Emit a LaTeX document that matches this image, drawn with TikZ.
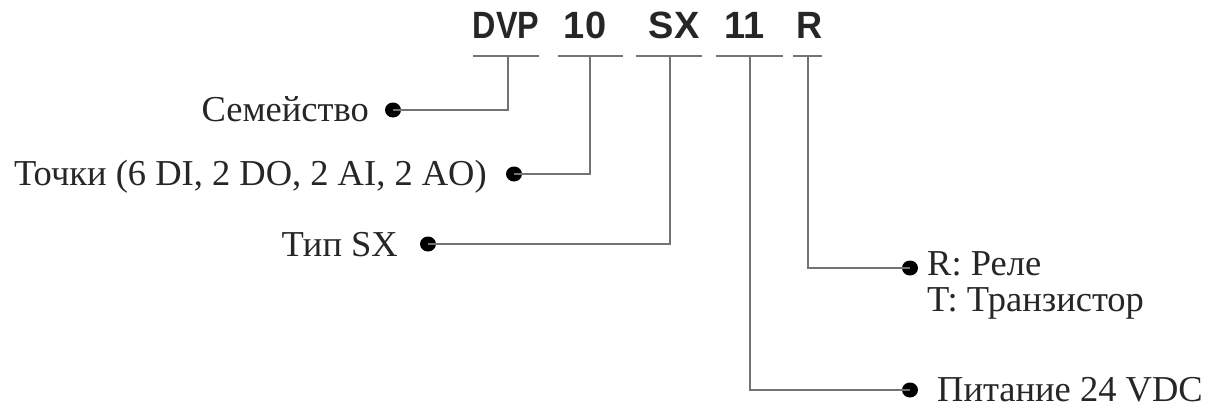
\documentclass[tikz,border=0pt]{standalone}
\usepackage{fontspec}
\usetikzlibrary{shapes.geometric}
\setmainfont{Liberation Serif}
\newfontfamily\headfont{Liberation Sans}
\newcommand{\narrowcode}[2]{\scalebox{#1}[1]{#2}}
\begin{document}
\begin{tikzpicture}[x=1pt,y=-1pt,
  code/.style={font=\headfont\bfseries\fontsize{38}{38}\selectfont, anchor=base, text=black!85, inner sep=0},
  lbl/.style={font=\fontsize{36.5}{42}\selectfont, inner sep=0, text=black!85},
  dotn/.style={ellipse, fill=black, inner sep=0, minimum width=16pt, minimum height=15pt},
  wire/.style={draw=black!55, line width=1.7pt}]
\useasboundingbox (0,0) rectangle (1213,408);
% code letters
\node[code] (dvp) at (506,38) {\narrowcode{0.85}{DVP}};
\node[code] (ten) at (585,38) {\narrowcode{1}{10}};
\node[code] (sx)  at (674,38) {\narrowcode{1}{SX}};
\node[code] (ele) at (745,38) {\narrowcode{1}{11}};
\node[code] (r)   at (810,38) {\narrowcode{0.95}{R}};
% underlines
\coordinate (u1a) at (473,56); \coordinate (u1b) at (539,56); \coordinate (t1) at (508,56);
\coordinate (u2a) at (558,56); \coordinate (u2b) at (623,56); \coordinate (t2) at (590,56);
\coordinate (u3a) at (636,56); \coordinate (u3b) at (702,56); \coordinate (t3) at (670,56);
\coordinate (u4a) at (716,56); \coordinate (u4b) at (783,56); \coordinate (t4) at (750,56);
\coordinate (u5a) at (793,56); \coordinate (u5b) at (822,56); \coordinate (t5) at (808,56);
\draw[wire] (u1a) -- (u1b);
\draw[wire] (u2a) -- (u2b);
\draw[wire] (u3a) -- (u3b);
\draw[wire] (u4a) -- (u4b);
\draw[wire] (u5a) -- (u5b);
% dots
\node[dotn] (d1) at (393,110) {};
\node[dotn] (d2) at (514,174) {};
\node[dotn] (d3) at (428,244) {};
\node[dotn] (d4) at (910,268) {};
\node[dotn] (d5) at (910,390) {};
% connectors
\draw[wire] (t1) |- (d1.center);
\draw[wire] (t2) |- (d2.center);
\draw[wire] (t3) |- (d3.center);
\draw[wire] (t5) |- (d4.center);
\draw[wire] (t4) |- (d5.center);
% labels
\node[lbl, anchor=base east] (l1) at (369,121) {Семейство};
\node[lbl, anchor=base east] (l2) at (487,185) {Точки (6 DI, 2 DO, 2 AI, 2 AO)};
\node[lbl, anchor=base east] (l3) at (398,256) {Тип SX};
\node[lbl, anchor=base west] (l4) at (927,275) {R: Реле};
\node[lbl, anchor=base west] (l5) at (927,311) {T: Транзистор};
\node[lbl, anchor=base west] (l6) at (937,401) {Питание 24 VDC};
\end{tikzpicture}
\end{document}
